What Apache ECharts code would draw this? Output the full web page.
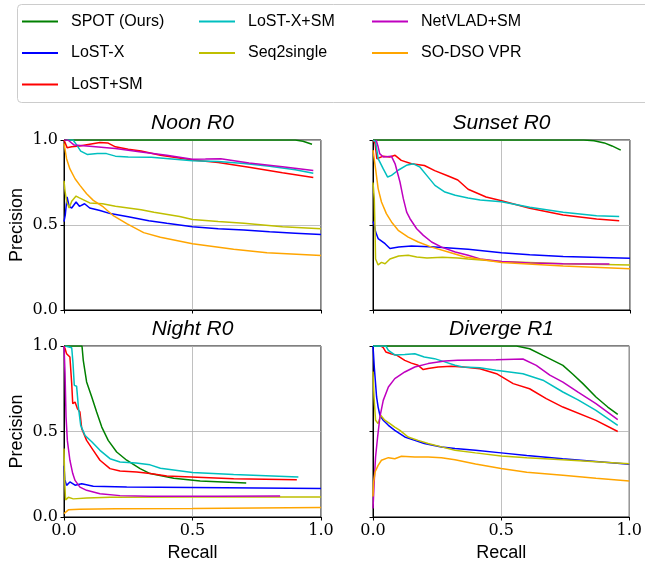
<!DOCTYPE html>
<html><head><meta charset="utf-8">
<script src="https://cdn.jsdelivr.net/npm/echarts@6/dist/echarts.min.js"></script>
<style>html,body{margin:0;padding:0;background:#fff}#c{width:645px;height:567px}</style>
</head><body><div id="c"></div>
<script>
// ---- data ----
const methods = ['SPOT (Ours)','LoST-X','LoST+SM','LoST-X+SM','Seq2single','NetVLAD+SM','SO-DSO VPR'];
const colors = ['#008000','#0000ff','#ff0000','#00bfbf','#bfbf00','#bf00bf','#ffa500'];
const panelTitles = ['Noon R0','Sunset R0','Night R0','Diverge R1'];
const xTicks = [0, 0.5, 1.0];
const yTicks = [0, 0.5, 1.0];

// Noon R0
const noonSPOT = [[0,1],[0.5,1],[0.9,1],[0.93,0.993],[0.965,0.975]];
const noonLoSTX = [[0,0.52],[0.005,0.56],[0.012,0.665],[0.02,0.61],[0.03,0.6],[0.047,0.635],[0.06,0.61],[0.08,0.625],[0.1,0.6],[0.14,0.585],[0.18,0.567],[0.25,0.548],[0.33,0.525],[0.4,0.51],[0.5,0.49],[0.6,0.478],[0.7,0.47],[0.8,0.46],[0.9,0.452],[1.0,0.444]];
const noonLoSTSM = [[0,1],[0.005,0.99],[0.012,0.955],[0.03,0.96],[0.06,0.965],[0.1,0.975],[0.14,0.985],[0.17,0.983],[0.2,0.96],[0.25,0.945],[0.3,0.935],[0.375,0.91],[0.5,0.882],[0.6,0.867],[0.72,0.84],[0.85,0.808],[0.97,0.78]];
const noonLoSTXSM = [[0.01,1],[0.035,1.0],[0.05,0.97],[0.065,0.935],[0.09,0.915],[0.13,0.92],[0.165,0.92],[0.2,0.905],[0.25,0.9],[0.34,0.898],[0.42,0.888],[0.5,0.878],[0.6,0.873],[0.7,0.862],[0.8,0.845],[0.9,0.825],[0.97,0.804]];
const noonSeq2 = [[0,0.76],[0.004,0.7],[0.01,0.64],[0.02,0.6],[0.03,0.64],[0.047,0.67],[0.06,0.66],[0.08,0.645],[0.1,0.63],[0.15,0.625],[0.2,0.61],[0.3,0.59],[0.35,0.575],[0.45,0.55],[0.5,0.532],[0.6,0.52],[0.7,0.51],[0.85,0.49],[1.0,0.478]];
const noonNetVLAD = [[0,1],[0.015,1.0],[0.04,0.97],[0.1,0.963],[0.2,0.95],[0.3,0.93],[0.4,0.91],[0.5,0.887],[0.55,0.888],[0.61,0.89],[0.72,0.865],[0.85,0.843],[0.97,0.82]];
const noonSODSO = [[0,0.98],[0.01,0.89],[0.023,0.83],[0.043,0.772],[0.062,0.733],[0.088,0.684],[0.114,0.645],[0.153,0.606],[0.19,0.557],[0.244,0.508],[0.31,0.455],[0.375,0.428],[0.5,0.39],[0.66,0.357],[0.79,0.337],[1.0,0.32]];

// Sunset R0
const sunsetSPOT = [[0,1],[0.5,1],[0.82,1],[0.86,0.995],[0.9,0.983],[0.93,0.965],[0.964,0.94]];
const sunsetLoSTX = [[0,0.52],[0.005,0.5],[0.01,0.46],[0.02,0.42],[0.047,0.39],[0.066,0.362],[0.1,0.37],[0.15,0.376],[0.24,0.37],[0.37,0.357],[0.5,0.337],[0.61,0.325],[0.74,0.315],[1.0,0.304]];
const sunsetLoSTSM = [[0,1],[0.008,0.98],[0.015,0.89],[0.04,0.905],[0.065,0.9],[0.086,0.91],[0.11,0.88],[0.15,0.86],[0.2,0.85],[0.24,0.82],[0.29,0.79],[0.33,0.765],[0.37,0.71],[0.44,0.665],[0.5,0.643],[0.61,0.598],[0.74,0.559],[0.87,0.535],[0.958,0.525]];
const sunsetLoSTXSM = [[0,1],[0.01,0.99],[0.02,0.89],[0.04,0.83],[0.057,0.782],[0.072,0.792],[0.098,0.822],[0.13,0.851],[0.157,0.86],[0.183,0.84],[0.209,0.792],[0.241,0.733],[0.28,0.694],[0.32,0.675],[0.37,0.659],[0.417,0.647],[0.5,0.637],[0.61,0.604],[0.74,0.575],[0.87,0.555],[0.958,0.55]];
const sunsetSeq2 = [[0,0.75],[0.005,0.655],[0.008,0.46],[0.01,0.3],[0.02,0.265],[0.033,0.28],[0.047,0.272],[0.066,0.3],[0.1,0.318],[0.137,0.322],[0.17,0.312],[0.21,0.306],[0.27,0.31],[0.33,0.306],[0.37,0.3],[0.5,0.286],[0.74,0.272],[1.0,0.265]];
const sunsetNetVLAD = [[0.012,1],[0.02,0.96],[0.026,0.92],[0.04,0.9],[0.072,0.904],[0.086,0.86],[0.105,0.753],[0.118,0.655],[0.131,0.576],[0.144,0.537],[0.17,0.478],[0.196,0.439],[0.228,0.4],[0.267,0.37],[0.32,0.341],[0.37,0.322],[0.417,0.3],[0.5,0.286],[0.61,0.277],[0.74,0.272],[0.92,0.27]];
const sunsetSODSO = [[0,0.94],[0.005,0.93],[0.01,0.83],[0.02,0.714],[0.033,0.635],[0.052,0.567],[0.072,0.518],[0.098,0.469],[0.137,0.429],[0.176,0.4],[0.228,0.37],[0.293,0.341],[0.358,0.312],[0.5,0.28],[0.74,0.259],[1.0,0.243]];

// Night R0
const nightSPOT = [[0,1],[0.07,1],[0.075,0.916],[0.088,0.79],[0.108,0.702],[0.127,0.614],[0.147,0.526],[0.172,0.448],[0.205,0.38],[0.244,0.332],[0.296,0.283],[0.335,0.254],[0.427,0.226],[0.53,0.21],[0.709,0.199]];
const nightLoSTX = [[0,0.3],[0.003,0.22],[0.01,0.185],[0.023,0.205],[0.043,0.186],[0.069,0.195],[0.114,0.18],[0.244,0.176],[0.5,0.172],[1.0,0.166]];
const nightLoSTSM = [[0,1],[0.004,0.985],[0.01,0.955],[0.023,0.936],[0.03,0.78],[0.034,0.663],[0.043,0.672],[0.052,0.634],[0.062,0.614],[0.069,0.517],[0.088,0.448],[0.114,0.39],[0.14,0.332],[0.179,0.283],[0.218,0.269],[0.283,0.263],[0.335,0.254],[0.4,0.24],[0.66,0.224],[0.906,0.218]];
const nightLoSTXSM = [[0.005,1],[0.03,0.99],[0.035,0.9],[0.04,0.77],[0.049,0.765],[0.056,0.643],[0.065,0.536],[0.082,0.477],[0.108,0.44],[0.14,0.39],[0.179,0.341],[0.218,0.322],[0.28,0.316],[0.335,0.305],[0.375,0.285],[0.5,0.26],[0.66,0.248],[0.912,0.234]];
const nightSeq2 = [[0,0.4],[0.003,0.2],[0.006,0.1],[0.017,0.115],[0.036,0.106],[0.088,0.111],[0.18,0.115],[0.5,0.117],[1.0,0.117]];
const nightNetVLAD = [[0,1],[0.004,0.84],[0.008,0.585],[0.013,0.448],[0.023,0.332],[0.034,0.254],[0.043,0.214],[0.062,0.175],[0.088,0.156],[0.14,0.136],[0.218,0.125],[0.335,0.121],[0.6,0.122],[0.841,0.123]];
const nightSODSO = [[0,0.02],[0.004,0.03],[0.017,0.042],[0.06,0.046],[0.2,0.048],[0.5,0.05],[1.0,0.055]];

// Diverge R1
const divergeSPOT = [[0,1],[0.3,1],[0.56,1],[0.611,0.984],[0.663,0.945],[0.741,0.887],[0.78,0.835],[0.819,0.78],[0.87,0.702],[0.916,0.643],[0.955,0.6]];
const divergeLoSTX = [[0,1],[0.005,0.877],[0.01,0.78],[0.014,0.702],[0.02,0.643],[0.027,0.595],[0.04,0.566],[0.06,0.536],[0.085,0.507],[0.124,0.468],[0.163,0.448],[0.2,0.43],[0.267,0.41],[0.32,0.4],[0.4,0.39],[0.5,0.375],[0.6,0.36],[0.74,0.341],[0.87,0.325],[1.0,0.308]];
const divergeLoSTSM = [[0.03,1],[0.04,0.99],[0.05,0.965],[0.07,0.955],[0.092,0.946],[0.124,0.916],[0.15,0.9],[0.176,0.887],[0.196,0.862],[0.215,0.868],[0.254,0.877],[0.306,0.881],[0.352,0.877],[0.417,0.867],[0.482,0.838],[0.547,0.78],[0.611,0.75],[0.676,0.692],[0.741,0.643],[0.87,0.565],[0.955,0.5]];
const divergeLoSTXSM = [[0,1],[0.05,1],[0.06,0.975],[0.085,0.948],[0.124,0.95],[0.163,0.955],[0.2,0.936],[0.24,0.926],[0.28,0.907],[0.32,0.887],[0.35,0.877],[0.417,0.873],[0.48,0.858],[0.585,0.838],[0.663,0.8],[0.741,0.731],[0.8,0.685],[0.87,0.624],[0.955,0.536]];
const divergeSeq2 = [[0,0.85],[0.004,0.7],[0.01,0.566],[0.02,0.546],[0.03,0.595],[0.046,0.566],[0.066,0.546],[0.085,0.526],[0.105,0.507],[0.137,0.468],[0.176,0.448],[0.215,0.43],[0.267,0.41],[0.32,0.39],[0.4,0.375],[0.5,0.357],[0.6,0.347],[0.74,0.335],[1.0,0.312]];
const divergeNetVLAD = [[0,0.05],[0.005,0.214],[0.01,0.351],[0.018,0.468],[0.027,0.585],[0.04,0.682],[0.06,0.76],[0.085,0.809],[0.124,0.848],[0.163,0.877],[0.215,0.897],[0.28,0.912],[0.33,0.916],[0.48,0.92],[0.585,0.924],[0.637,0.887],[0.69,0.83],[0.741,0.789],[0.8,0.73],[0.87,0.663],[0.955,0.569]];
const divergeSODSO = [[0,0.12],[0.002,0.2],[0.008,0.263],[0.02,0.302],[0.033,0.332],[0.06,0.347],[0.085,0.341],[0.111,0.355],[0.163,0.351],[0.215,0.351],[0.267,0.347],[0.32,0.335],[0.4,0.31],[0.5,0.283],[0.6,0.262],[0.741,0.244],[0.87,0.226],[1.0,0.21]];

const panels = [
  [noonSPOT, noonLoSTX, noonLoSTSM, noonLoSTXSM, noonSeq2, noonNetVLAD, noonSODSO],
  [sunsetSPOT, sunsetLoSTX, sunsetLoSTSM, sunsetLoSTXSM, sunsetSeq2, sunsetNetVLAD, sunsetSODSO],
  [nightSPOT, nightLoSTX, nightLoSTSM, nightLoSTXSM, nightSeq2, nightNetVLAD, nightSODSO],
  [divergeSPOT, divergeLoSTX, divergeLoSTSM, divergeLoSTXSM, divergeSeq2, divergeNetVLAD, divergeSODSO]
];

// ---- layout ----
const gridBoxes = [
  {left:64, top:140, width:257, height:170},
  {left:373, top:140, width:257, height:170},
  {left:64, top:346, width:257, height:171},
  {left:373, top:346, width:257, height:171}
];
const SANS = 'Liberation Sans';
const SERIF = 'DejaVu Serif';

const grids = gridBoxes.map(g => Object.assign({show:true, borderColor:'#000', borderWidth:1, backgroundColor:'transparent'}, g));
const xAxes = gridBoxes.map((g,i) => ({
  type:'value', gridIndex:i, min:0, max:1, interval:0.5,
  name: i>=2 ? 'Recall' : '', nameLocation:'middle', nameGap:27,
  nameTextStyle:{fontFamily:SANS, fontSize:18, color:'#000'},
  axisLine:{show:true, lineStyle:{color:'#000', width:1}},
  axisTick:{show:true, inside:false, length:3.5, lineStyle:{color:'#000', width:1}},
  axisLabel:{show:i>=2, margin:6, fontFamily:SERIF, fontSize:16, color:'#000', formatter:v=>v.toFixed(1)},
  splitLine:{show:true, lineStyle:{color:'#b0b0b0', width:0.8}}
}));
const yAxes = gridBoxes.map((g,i) => ({
  type:'value', gridIndex:i, min:0, max:1, interval:0.5,
  name: i%2===0 ? 'Precision' : '', nameLocation:'middle', nameGap:38,
  nameTextStyle:{fontFamily:SANS, fontSize:18, color:'#000'},
  axisLine:{show:true, lineStyle:{color:'#000', width:1}},
  axisTick:{show:true, inside:false, length:3.5, lineStyle:{color:'#000', width:1}},
  axisLabel:{show:i%2===0, margin:6, fontFamily:SERIF, fontSize:16, color:'#000', formatter:v=>v.toFixed(1)},
  splitLine:{show:true, lineStyle:{color:'#b0b0b0', width:0.8}}
}));

const series = [];
panels.forEach((pd, pi) => {
  pd.forEach((d, mi) => {
    series.push({
      type:'line', name:methods[mi], xAxisIndex:pi, yAxisIndex:pi,
      data:d, showSymbol:false, symbol:'none', color:colors[mi],
      lineStyle:{color:colors[mi], width:1.5}, z: 2+mi
    });
  });
});

const legendBase = {orient:'vertical', top:6, padding:0, itemWidth:36, itemHeight:2, itemGap:0.5, icon:'rect',
  textStyle:{fontFamily:SANS, fontSize:16, color:'#000', lineHeight:30, padding:[1,0,0,8]}};
const legends = [
  Object.assign({}, legendBase, {left:22, data:methods.slice(0,3)}),
  Object.assign({}, legendBase, {left:199, data:methods.slice(3,5)}),
  Object.assign({}, legendBase, {left:372, data:methods.slice(5,7)})
];

const titleGraphics = gridBoxes.map((g,i) => ({
  type:'text', x:g.left + g.width/2, y: g.top - 17,
  style:{text:panelTitles[i], fill:'#000', font:'italic 21px "'+SANS+'"', textAlign:'center', textVerticalAlign:'middle'}
}));

const chart = echarts.init(document.getElementById('c'), null, {renderer:'canvas'});
chart.setOption({
  animation:false,
  backgroundColor:'#fff',
  grid:grids, xAxis:xAxes, yAxis:yAxes, series:series, legend:legends,
  graphic:[{type:'rect', z:-1, shape:{x:17.5, y:4.5, width:640, height:98, r:4}, style:{fill:'#fff', stroke:'#cccccc', lineWidth:1}}].concat(titleGraphics)
});
</script></body></html>
